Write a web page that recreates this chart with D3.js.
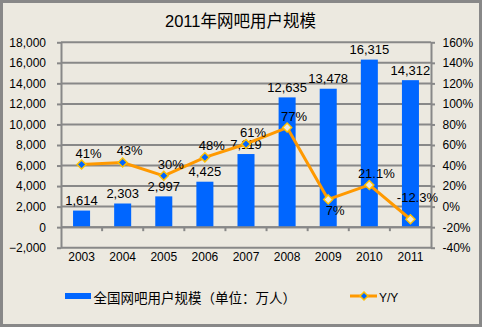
<!DOCTYPE html>
<html><head><meta charset="utf-8">
<script src="https://cdn.jsdelivr.net/npm/d3@7"></script>
<style>
html,body{margin:0;padding:0;background:#fff;}
svg{display:block;}
text{font-family:"Liberation Sans",Arial,"Noto Sans CJK SC",sans-serif;}
</style>
</head><body>
<svg id="chart" width="483" height="329"></svg>
<script>
const title = "2011年网吧用户规模";
const years = ["2003","2004","2005","2006","2007","2008","2009","2010","2011"];
const users = [1614, 2303, 2997, 4425, 7119, 12635, 13478, 16315, 14312];
const yoy = [41, 43, 30, 48, 61, 77, 7, 21.1, -12.3];
const yoyLabels = ["41%","43%","30%","48%","61%","77%","7%","21.1%","-12.3%"];
const leftTicks = [-2000,0,2000,4000,6000,8000,10000,12000,14000,16000,18000];
const rightTicks = [-40,-20,0,20,40,60,80,100,120,140,160];
const legendBar = "全国网吧用户规模（单位：万人）";
const legendLine = "Y/Y";

const BG = "#ECE9E0", GRID = "#888888", BLUE = "#0066FF", ORANGE = "#FF9900", MSTROKE = "#FFC000";
const svg = d3.select("#chart");

// background + border
svg.append("rect").attr("x",1.5).attr("y",1.5).attr("width",479).attr("height",324)
  .attr("fill",BG).attr("stroke",GRID).attr("stroke-width",3);

const L = 61, R = 431, T = 42.3, B = 247.7;
const x = d3.scaleBand().domain(years).range([L,R]).paddingInner(0.586).paddingOuter(0.293);
const yL = d3.scaleLinear().domain([-2000,18000]).range([B,T]);
const yR = d3.scaleLinear().domain([-40,160]).range([B,T]);
const cx = d => x(d) + x.bandwidth()/2;

// title
svg.append("text").attr("x",240.5).attr("y",27).attr("text-anchor","middle")
  .attr("font-size",16.5).attr("fill","#000").text(title);

// gridlines
svg.append("g").selectAll("line").data(leftTicks).join("line")
  .attr("x1",L).attr("x2",R).attr("y1",d=>yL(d)).attr("y2",d=>yL(d))
  .attr("stroke",GRID).attr("stroke-width",2);

// left axis
const gl = svg.append("g").attr("transform",`translate(${L},0)`)
  .call(d3.axisLeft(yL).tickValues(leftTicks).tickFormat(d3.format(",")).tickSizeInner(4).tickSizeOuter(0).tickPadding(11));
gl.select(".domain").attr("stroke",GRID).attr("stroke-width",2);
gl.selectAll(".tick line").attr("stroke",GRID).attr("stroke-width",2);
gl.selectAll(".tick text").attr("font-size",12).attr("fill","#000").attr("font-family","Liberation Sans, Arial");

// right axis
const gr = svg.append("g").attr("transform",`translate(${R},0)`)
  .call(d3.axisRight(yR).tickValues(rightTicks).tickFormat(d=>d+"%").tickSizeInner(4).tickSizeOuter(0).tickPadding(7.5));
gr.select(".domain").attr("stroke",GRID).attr("stroke-width",2);
gr.selectAll(".tick line").attr("stroke",GRID).attr("stroke-width",2);
gr.selectAll(".tick text").attr("font-size",12).attr("fill","#000").attr("font-family","Liberation Sans, Arial");

// bars
svg.append("g").selectAll("rect").data(users).join("rect")
  .attr("x",(d,i)=>x(years[i])).attr("width",x.bandwidth())
  .attr("y",d=>yL(d)).attr("height",d=>yL(0)-yL(d)).attr("fill",BLUE);

// x axis at zero
const y0 = yL(0);
svg.append("line").attr("x1",L).attr("x2",R).attr("y1",y0).attr("y2",y0).attr("stroke",GRID).attr("stroke-width",2);
const step = x.step();
svg.append("g").selectAll("line").data(years.slice(1)).join("line")
  .attr("x1",d=>x(d)-step*x.paddingInner()/2).attr("x2",d=>x(d)-step*x.paddingInner()/2)
  .attr("y1",y0).attr("y2",y0+4).attr("stroke",GRID).attr("stroke-width",2);
svg.append("g").selectAll("text").data(years).join("text")
  .attr("x",d=>cx(d)).attr("y",yL(-2000)+13.5).attr("text-anchor","middle")
  .attr("font-size",12).attr("fill","#000").text(d=>d);

// bar labels
svg.append("g").selectAll("text").data(users).join("text")
  .attr("x",(d,i)=>cx(years[i])).attr("y",d=>yL(d)-5.5).attr("text-anchor","middle")
  .attr("font-size",13).attr("fill","#000").text(d=>d3.format(",")(d));

// line
const line = d3.line().x((d,i)=>cx(years[i])).y(d=>yR(d));
svg.append("path").datum(yoy).attr("d",line).attr("fill","none")
  .attr("stroke",ORANGE).attr("stroke-width",3).attr("stroke-linejoin","round");
const diamond = r => `M0,${-r}L${r},0L0,${r}L${-r},0Z`;
svg.append("g").selectAll("path").data(yoy).join("path")
  .attr("transform",(d,i)=>`translate(${cx(years[i])},${yR(d)})`)
  .attr("d",diamond(4.5))
  .attr("fill",(d,i)=> i<5 ? BLUE : BG)
  .attr("stroke",MSTROKE).attr("stroke-width",1.5);

// yoy labels
svg.append("g").selectAll("text").data(yoy).join("text")
  .attr("x",(d,i)=>cx(years[i])+7)
  .attr("y",(d,i)=> i===6 ? yR(d)+15.5 : (i===8 ? yR(d)-17 : yR(d)-7))
  .attr("text-anchor","middle").attr("font-size",13).attr("fill","#000")
  .text((d,i)=>yoyLabels[i]);

// legend
svg.append("rect").attr("x",65).attr("y",293).attr("width",26).attr("height",6).attr("fill",BLUE);
svg.append("text").attr("x",93.5).attr("y",302.5).attr("font-size",13.5).attr("fill","#000")
  .attr("font-family","Noto Sans CJK SC").text(legendBar);
svg.append("line").attr("x1",350).attr("x2",377).attr("y1",296).attr("y2",296)
  .attr("stroke",ORANGE).attr("stroke-width",3);
svg.append("path").attr("transform","translate(364,296)").attr("d",diamond(4))
  .attr("fill",BLUE).attr("stroke",MSTROKE).attr("stroke-width",1.5);
svg.append("text").attr("x",379).attr("y",301.5).attr("font-size",12).attr("fill","#000").text(legendLine);
</script>
</body></html>
